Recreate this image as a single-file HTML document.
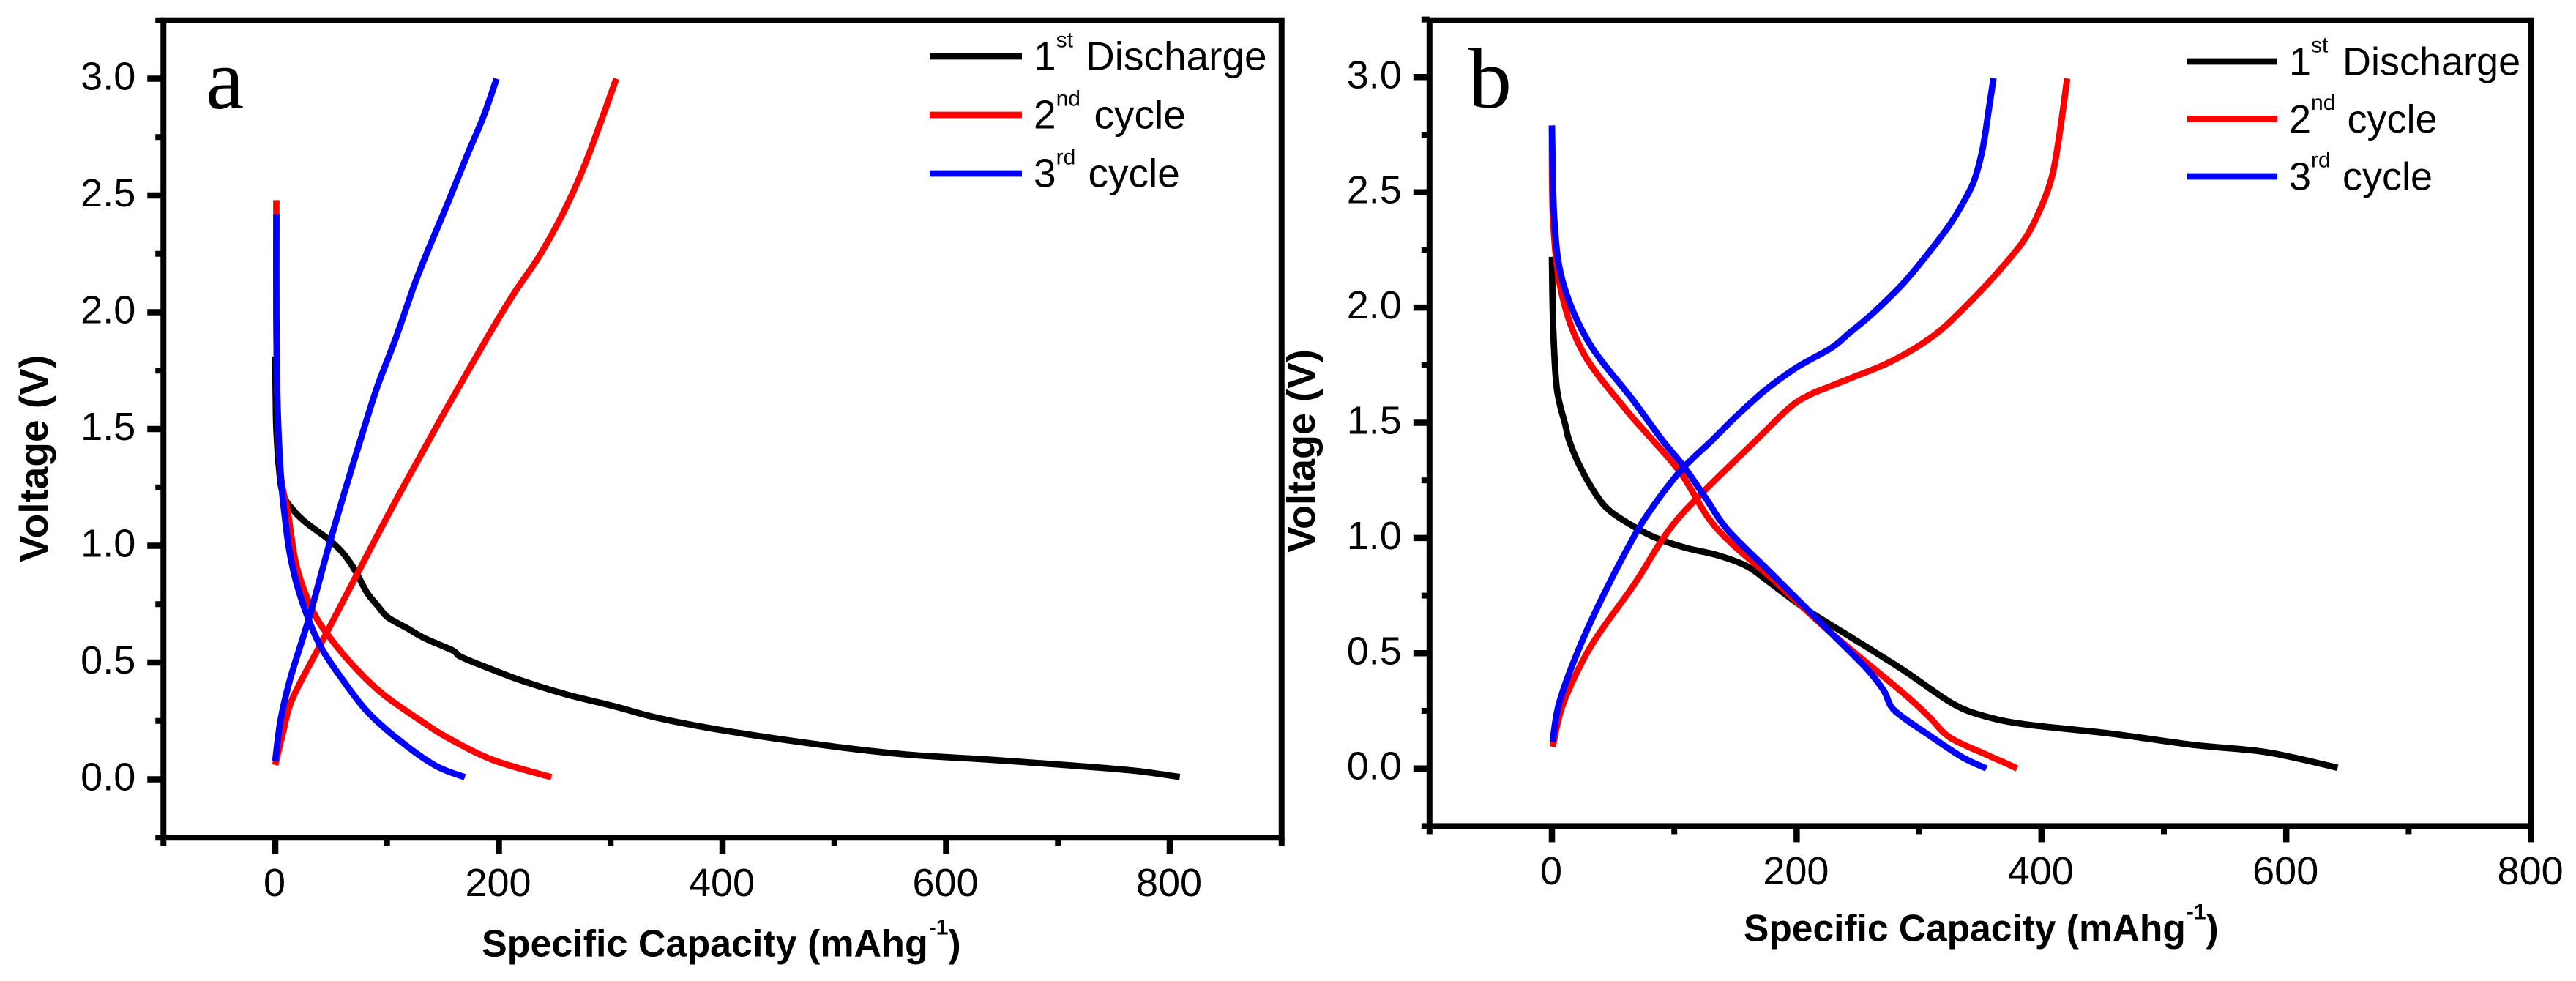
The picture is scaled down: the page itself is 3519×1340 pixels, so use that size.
<!DOCTYPE html>
<html lang="en">
<head>
<meta charset="utf-8">
<title>Voltage vs Specific Capacity</title>
<style>
html,body{margin:0;padding:0;background:#fff;}
svg{display:block;}
text{font-family:"Liberation Sans",sans-serif;fill:#000;}
</style>
</head>
<body>
<svg id="chart" xmlns="http://www.w3.org/2000/svg" width="3519" height="1340" viewBox="0 0 3519 1340">
<rect width="3519" height="1340" fill="#fff"/>
<g id="panel-a"></g>
<g id="panel-b"></g>
</svg>
<script>
// Shared axis ticks
const xMajorTicksA = [0, 200, 400, 600, 800];
const xMinorTicksA = [-100, 100, 300, 500, 700, 900];
const xMajorTicksB = [0, 200, 400, 600, 800];
const xMinorTicksB = [-100, 100, 300, 500, 700];
const yMajorTicks = [0, 0.5, 1, 1.5, 2, 2.5, 3];
const yMinorTicks = [-0.25, 0.25, 0.75, 1.25, 1.75, 2.25, 2.75, 3.25];
const yTickLabels = ["0.0", "0.5", "1.0", "1.5", "2.0", "2.5", "3.0"];
const xTickLabels = ["0", "200", "400", "600", "800"];

// Panel a series
const aFirstDischargeCap = [0,0.5,1,3,7,17.9,29.9,46.3,58.3,67,73.5,82.3,92.1,100.8,118.3,133.6,158.6,166.3,194.6,220.8,260,303.8,342,400,489,563,636,710,768,809];
const aFirstDischargeV = [1.81,1.6,1.5,1.35,1.22,1.143,1.09,1.033,0.981,0.928,0.876,0.798,0.74,0.693,0.646,0.604,0.552,0.524,0.469,0.422,0.364,0.312,0.263,0.21,0.147,0.107,0.085,0.06,0.037,0.01];
const aSecondDischargeCap = [1,1,2,5,11.3,19,33.2,48.4,70.3,96.5,129.2,153.2,194.6,247];
const aSecondDischargeV = [2.48,2.0,1.6,1.3,1.143,0.913,0.725,0.61,0.484,0.364,0.254,0.181,0.083,0.009];
const aSecondChargeCap = [0,7,15.7,41.9,72.4,105.2,139.6,154.6,176.2,198,214.8,234.8,251.5,265,277.6,290,305];
const aSecondChargeV = [0.061,0.202,0.349,0.59,0.871,1.17,1.47,1.6,1.78,1.96,2.09,2.23,2.37,2.5,2.64,2.80,3.0];
const aThirdDischargeCap = [1,1,2,5,8.1,12.4,19,29.9,41.9,59.4,81.2,107.4,142.3,169.6];
const aThirdDischargeV = [2.42,2.0,1.6,1.3,1.143,0.986,0.84,0.683,0.557,0.432,0.296,0.181,0.061,0.009];
const aThirdChargeCap = [0,4.8,13.5,31,48.4,62,77.9,91.2,107.9,124.6,137.9,154.5,171.4,186.4,198];
const aThirdChargeV = [0.077,0.254,0.432,0.704,1.007,1.23,1.48,1.68,1.89,2.12,2.28,2.47,2.67,2.84,3.0];

// Panel b series
const bFirstDischargeCap = [0,1,4,11,13.9,21.9,35.9,47.8,67.8,85.7,109.6,135.6,159.5,177.4,207.3,247.2,287.1,328,355,389,456,523,577,610,642];
const bFirstDischargeV = [2.22,1.92,1.65,1.49,1.427,1.322,1.19,1.116,1.047,0.999,0.957,0.925,0.877,0.809,0.692,0.56,0.427,0.28,0.225,0.19,0.152,0.103,0.076,0.043,0.003];
const bSecondDischargeCap = [0,1,8,26,60,81.8,105.7,127.6,147.5,177.4,227.3,287.1,308,325,355,372,380];
const bSecondDischargeV = [2.79,2.38,2.06,1.80,1.56,1.428,1.279,1.089,0.973,0.835,0.592,0.327,0.225,0.135,0.06,0.02,0];
const bSecondChargeCap = [0.6,8,21.9,37.9,67.8,87.7,103.7,127.6,167.5,194,210,228.3,247.2,273.1,297.1,317,336.9,360.8,384.8,398.7,408.7,414.7,421];
const bSecondChargeV = [0.094,0.263,0.433,0.581,0.803,0.973,1.089,1.221,1.428,1.565,1.62,1.66,1.70,1.756,1.825,1.899,1.999,2.132,2.285,2.423,2.571,2.751,2.994];
const bThirdDischargeCap = [0,2,9,30,66,89.7,107.7,125.6,143.5,177.4,227.3,257.2,271.1,277.1,287.1,308,335,355];
const bThirdDischargeV = [2.79,2.38,2.11,1.85,1.60,1.428,1.311,1.174,1.036,0.856,0.592,0.433,0.338,0.269,0.221,0.145,0.05,0];
const bThirdChargeCap = [0.6,6,21.9,41.9,65.8,81.8,105.7,131.6,150,174,200,228.3,243.2,263.2,287.1,307,325,335.9,344.9,351.9,356.9,360.8];
const bThirdChargeV = [0.116,0.285,0.517,0.75,0.994,1.131,1.295,1.428,1.525,1.64,1.74,1.825,1.89,1.98,2.105,2.232,2.359,2.454,2.55,2.688,2.857,2.995];

const SVGNS = "http://www.w3.org/2000/svg";

function make(parent, tag, attrs, text) {
  const el = document.createElementNS(SVGNS, tag);
  for (const k in attrs) el.setAttribute(k, attrs[k]);
  if (text !== undefined) el.textContent = text;
  parent.appendChild(el);
  return el;
}

function smoothPath(xs, ys, sx, sy) {
  const p = xs.map((x, i) => [sx(x), sy(ys[i])]);
  let d = "M" + p[0][0].toFixed(1) + " " + p[0][1].toFixed(1);
  for (let i = 0; i < p.length - 1; i++) {
    const p0 = p[Math.max(i - 1, 0)], p1 = p[i], p2 = p[i + 1], p3 = p[Math.min(i + 2, p.length - 1)];
    const c1x = p1[0] + (p2[0] - p0[0]) / 6, c1y = p1[1] + (p2[1] - p0[1]) / 6;
    const c2x = p2[0] - (p3[0] - p1[0]) / 6, c2y = p2[1] - (p3[1] - p1[1]) / 6;
    d += "C" + c1x.toFixed(1) + " " + c1y.toFixed(1) + " " + c2x.toFixed(1) + " " + c2y.toFixed(1) + " " + p2[0].toFixed(1) + " " + p2[1].toFixed(1);
  }
  return d;
}

function drawPanel(root, cfg) {
  const sx = c => cfg.x0 + c * cfg.xScale;
  const sy = v => cfg.y0 - v * cfg.yScale;
  const left = sx(-100), right = sx(cfg.xMax), top = cfg.frameTop, bottom = sy(-0.25);

  // series
  cfg.series.forEach(s => {
    const line = make(root, "path", {d: smoothPath(s.x, s.y, sx, sy), fill: "none", stroke: s.color, "stroke-width": 8.7, "stroke-linejoin": "round"});
    
    
  });

  // frame
  const frame = make(root, "rect", {x: left, y: top, width: right - left, height: bottom - top, fill: "none", stroke: "#000", "stroke-width": 8});
  
  

  // y ticks
  yMajorTicks.forEach((v, i) => {
    const t = make(root, "line", {x1: left - 22, x2: left, y1: sy(v), y2: sy(v), stroke: "#000", "stroke-width": 8.5});
    
    
    const l = make(root, "text", {x: left - 38, y: sy(v) + 15, "font-size": 54, "text-anchor": "end"}, yTickLabels[i]);
    
    
  });
  yMinorTicks.forEach(v => {
    const t = make(root, "line", {x1: left - 11, x2: left, y1: sy(v), y2: sy(v), stroke: "#000", "stroke-width": 8});
    
    
  });

  // x ticks
  cfg.xMajor.forEach((c, i) => {
    const t = make(root, "line", {x1: sx(c), x2: sx(c), y1: bottom, y2: bottom + 22, stroke: "#000", "stroke-width": 8.5});
    
    
    const l = make(root, "text", {x: sx(c) - 1, y: bottom + 79.5, "font-size": 54, "text-anchor": "middle"}, xTickLabels[i]);
    
    
  });
  cfg.xMinor.forEach(c => {
    const t = make(root, "line", {x1: sx(c), x2: sx(c), y1: bottom, y2: bottom + 11, stroke: "#000", "stroke-width": 8});
    
    
  });

  // titles
  const xt = make(root, "text", {x: cfg.xTitleX, y: cfg.xTitleY, "font-size": cfg.xTitleSize, "font-weight": "bold"});
  
  
  make(xt, "tspan", {}, "Specific Capacity (mAhg");
  make(xt, "tspan", {dy: -30, dx: 1, "font-size": 30}, "-1");
  make(xt, "tspan", {dy: 30}, ")");

  const yt = make(root, "text", {transform: "translate(" + cfg.yTitleX + "," + cfg.yTitleY + ") rotate(-90)", "font-size": cfg.yTitleSize, "font-weight": "bold"}, "Voltage (V)");
  
  

  // panel letter
  const letter = make(root, "text", {x: cfg.letterX, y: cfg.letterY, "font-size": 118, style: 'font-family:"Liberation Serif",serif'}, cfg.letter);
  
  

  // legend
  const lg = make(root, "g", {});
  
  
  cfg.legend.forEach((e, i) => {
    const yy = cfg.legY + i * cfg.legStep;
    const sw = make(lg, "line", {x1: cfg.legX, x2: cfg.legX + cfg.legW, y1: yy, y2: yy, stroke: e.color, "stroke-width": 8.7});
    
    
    const tx = make(lg, "text", {x: cfg.legX + cfg.legText, y: yy + 18.5, "font-size": cfg.legFont});
    
    
    make(tx, "tspan", {}, e.num);
    make(tx, "tspan", {dy: -31, "font-size": 30}, e.sup);
    make(tx, "tspan", {dy: 31, x: cfg.legX + cfg.wordX[i]}, e.word);
  });
}

const legendEntries = [
  {num: "1", sup: "st", word: "Discharge", color: "#000"},
  {num: "2", sup: "nd", word: "cycle", color: "#f00"},
  {num: "3", sup: "rd", word: "cycle", color: "#00f"}
];

drawPanel(document.getElementById("panel-a"), {
  x0: 376, xScale: 1.5275, y0: 1064.5, yScale: 319, xMax: 900, frameTop: 27.7,
  xMajor: xMajorTicksA, xMinor: xMinorTicksA,
  xTitleX: 658, xTitleY: 1306.7, xTitleSize: 52, yTitleX: 65, yTitleY: 768, yTitleSize: 55,
  letter: "a", letterX: 281, letterY: 148,
  legX: 1270, legY: 77, legStep: 80, legW: 126, legText: 142, legFont: 55,
  wordX: [213, 224.5, 216.5], legend: legendEntries,
  series: [
    {name: "first-discharge-curve", color: "#000", x: aFirstDischargeCap, y: aFirstDischargeV},
    {name: "second-cycle-discharge-curve", color: "#f00", x: aSecondDischargeCap, y: aSecondDischargeV},
    {name: "second-cycle-charge-curve", color: "#f00", x: aSecondChargeCap, y: aSecondChargeV},
    {name: "third-cycle-discharge-curve", color: "#00f", x: aThirdDischargeCap, y: aThirdDischargeV},
    {name: "third-cycle-charge-curve", color: "#00f", x: aThirdChargeCap, y: aThirdChargeV}
  ]
});

drawPanel(document.getElementById("panel-b"), {
  x0: 2120, xScale: 1.672, y0: 1049.7, yScale: 314.8, xMax: 800, frameTop: 27.7,
  xMajor: xMajorTicksB, xMinor: xMinorTicksB,
  xTitleX: 2382, xTitleY: 1285.7, xTitleSize: 51.5, yTitleX: 1796, yTitleY: 755, yTitleSize: 54,
  letter: "b", letterX: 2006, letterY: 147,
  legX: 2988, legY: 84, legStep: 78.5, legW: 123, legText: 139, legFont: 54,
  wordX: [212, 218.5, 212], legend: legendEntries,
  series: [
    {name: "first-discharge-curve", color: "#000", x: bFirstDischargeCap, y: bFirstDischargeV},
    {name: "second-cycle-discharge-curve", color: "#f00", x: bSecondDischargeCap, y: bSecondDischargeV},
    {name: "second-cycle-charge-curve", color: "#f00", x: bSecondChargeCap, y: bSecondChargeV},
    {name: "third-cycle-discharge-curve", color: "#00f", x: bThirdDischargeCap, y: bThirdDischargeV},
    {name: "third-cycle-charge-curve", color: "#00f", x: bThirdChargeCap, y: bThirdChargeV}
  ]
});
</script>
</body>
</html>
